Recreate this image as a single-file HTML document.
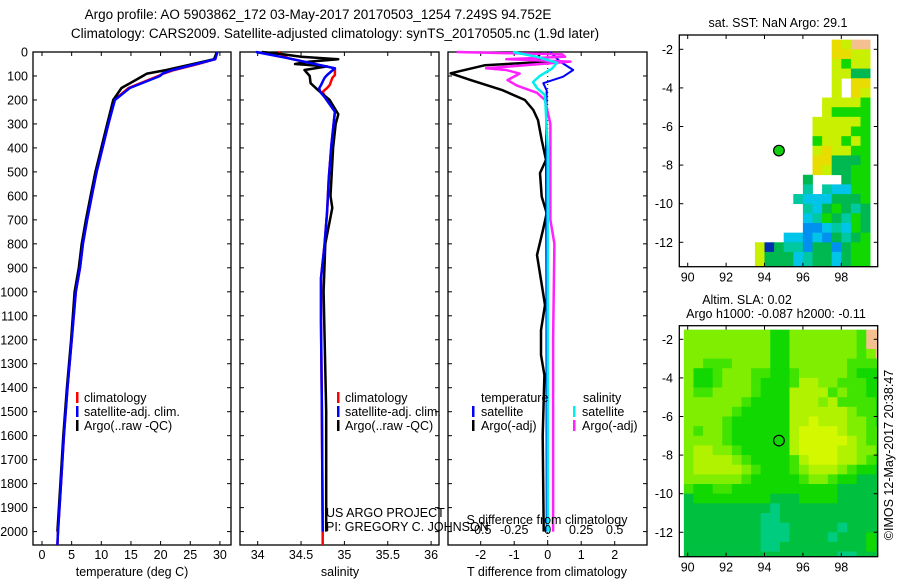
<!DOCTYPE html>
<html><head><meta charset="utf-8"><style>
html,body{margin:0;padding:0;background:#fff;}
svg{display:block;font-family:"Liberation Sans",sans-serif;}
text{font-size:12.5px;fill:#000;}
</style></head><body>
<svg id="fig" width="900" height="580" viewBox="0 0 900 580" xmlns="http://www.w3.org/2000/svg">
<text x="318" y="19" text-anchor="middle" style="font-size:13.5px">Argo profile: AO 5903862_172 03-May-2017 20170503_1254 7.249S 94.752E</text>
<text x="335" y="38" text-anchor="middle" style="font-size:13.5px">Climatology: CARS2009. Satellite-adjusted climatology: synTS_20170505.nc (1.9d later)</text>
<g id="g1"></g>
<g id="g2"></g>
<g id="g3"></g>
<g id="m1"></g>
<g id="m2"></g>
<text transform="translate(893,455) rotate(-90)" text-anchor="middle">©IMOS 12-May-2017 20:38:47</text>
</svg>
<script>
// ---- data ----
const depthTicks=[0,100,200,300,400,500,600,700,800,900,1000,1100,1200,1300,1400,1500,1600,1700,1800,1900,2000];
const tempTicks=[0,5,10,15,20,25,30];
const salTicks=[34,34.5,35,35.5,36];
const tdTicks=[-2,-1,0,1,2];
const sdTicks=[-0.5,-0.25,0,0.25,0.5];
const sdTickLabels=['-0.5','-0.25','0','0.25','0.5'];
const tempDepth=[0,30,50,75,90,100,150,200,300,400,500,600,700,800,900,1000,1200,1400,1600,1800,2000,2056];
const tempClim=[29.5,29.2,26.3,22.3,20.5,19.6,14.6,12.2,11.2,10.2,9.2,8.4,7.6,6.9,6.4,5.7,5.0,4.3,3.7,3.2,2.7,2.6];
const tempSat=[29.6,29.2,26.0,22.0,20.3,19.9,14.8,12.3,11.2,10.2,9.2,8.4,7.6,6.9,6.4,5.7,5.0,4.3,3.7,3.2,2.7,2.6];
const tempArgoDepth=[0,30,50,75,90,100,150,200,300,400,500,600,700,800,900,1000,1200,1400,1600,1800,2000];
const tempArgo=[29.5,29.0,25.5,21.0,17.7,17.0,13.4,12.0,11.0,10.0,9.0,8.2,7.4,6.7,6.2,5.5,4.9,4.2,3.6,3.1,2.6];
const salDepth=[0,26,68,96,108,138,150,166,192,249,388,526,666,805,943,1125,1500,2000,2056];
const salClim=[34.23,34.35,34.89,34.89,34.86,34.83,34.80,34.75,34.78,34.89,34.85,34.82,34.80,34.77,34.73,34.73,34.74,34.75,34.75];
const salSat=[33.98,34.35,34.89,34.80,34.77,34.73,34.71,34.72,34.78,34.89,34.85,34.82,34.80,34.77,34.73,34.73,34.74,34.75,34.75];
const salArgoDepth=[0,10,20,30,40,50,60,75,100,130,160,200,260,300,400,600,650,800,1000,1500,2000];
const salArgo=[34.05,34.3,34.5,34.93,34.6,34.43,34.8,34.54,34.6,34.61,34.7,34.83,34.93,34.9,34.87,34.84,34.86,34.78,34.76,34.79,34.79];
const tdDepth=[0,33,40,55,89,117,158,200,242,284,367,450,505,603,672,742,847,951,1055,1160,1263,1347,1600,2000];
const tdArgo=[-0.23,-0.3,0.07,-1.87,-2.9,-2.3,-1.37,-0.68,-0.43,-0.29,-0.18,-0.05,-0.23,-0.18,-0.03,-0.14,-0.32,-0.2,-0.08,-0.2,-0.2,-0.1,-0.15,-0.12];
const tdSatDepth=[0,40,75,103,130,160,400,1000,2000];
const tdSat=[0.07,0.37,0.76,0.46,-0.13,-0.03,-0.05,-0.04,-0.03];
const sdArgoDepth=[0,10,20,30,40,68,75,90,117,140,170,200,250,300,700,800,1200,2000];
const sdArgo=[-0.68,0.11,0.13,-0.31,0.17,-0.46,-0.31,-0.21,-0.3,-0.23,-0.08,-0.02,0,0.02,0.02,0.05,0.04,0.04];
const sdSatDepth=[0,20,45,70,100,125,150,180,400,2000];
const sdSat=[-0.26,-0.08,0.07,0.03,-0.06,-0.11,-0.08,-0.02,0,0];
const lonTicks=[90,92,94,96,98];
const latTicks=[-2,-4,-6,-8,-10,-12];
const argoLon=94.752, argoLat=-7.249;
const sstRows=[
".................YLOO",
".................YYLL",
".................LGLL",
".................LLDD",
".................L.YY",
".................L.YL",
"................LLLLG",
"................LGGGG",
"...............LLLLLG",
"...............LLLLGG",
"...............GLLGLG",
"...............LYLLGG",
"...............YYDDDG",
"...............YLDDGG",
"..............D...DGG",
"..............C.CSSGG",
".............CSSSDDDG",
"..............CSDGDCD",
"..............SCGDCGD",
"..............BBSCSGD",
"............SSBSBDCDG",
".........LNDCCBDDBDGG",
".........LDDDSCDDSDGG",
".........LDDDSCDDSDGG"];
const slaRows=[
"dddddddddbbdddddddcOO",
"dddddddddbbdddddddcOO",
"dddddddddbbdddddddcdO",
"ddcccddddbbddddddcccc",
"dbbcdddccbbcdddddcbbb",
"dbbcdddcbbbceeddcccbb",
"dccddddcbbbeeeecdccbb",
"ddddddcbbbbeeedeccccb",
"dddddcbbbbbeeeeeedccb",
"ddddcbbbbbbeefeeeddcb",
"dcddcbbbbbbeffffeddcc",
"ddddcbbbbbbefffffedcc",
"deeddcbbbbbeffffeeddc",
"deeeedcbbbbcefffeedcb",
"deeeeedcbbbcdeeedcbba",
"ddddddcbbbbbcddcbbaaa",
"cbbccbbbbbbbbbbbaaaaa",
"abbbbbbbbaaabbbbaaaaa",
"aaaaaaaaataaaaaaaaaaa",
"aaaaaaaattaaaaaaaaaaa",
"aaaaaaaatttaaaaataaaa",
"aaaaaaaatttaaaataaaba",
"aaaaaaaattaaaaaaaaaba",
"aaaaaaaaaaaaaaaattaaa"];
// ---- rendering ----
const NS='http://www.w3.org/2000/svg';
const pal={Y:'#e8dc00',L:'#c8f000',G:'#10d800',D:'#00b850',C:'#00c8a0',S:'#00c4e8',B:'#0090f0',N:'#0030b0',O:'#f5c090',
 a:'#00c040',b:'#10d800',c:'#40e400',d:'#80ee00',e:'#b0f200',f:'#d4f800',t:'#00cc80'};
function mk(tag,attrs,parent){const e=document.createElementNS(NS,tag);for(const k in attrs)e.setAttribute(k,attrs[k]);parent.appendChild(e);return e;}
const yD=d=>52+d*0.2398;
const xT=t=>42+t*5.93;
const xS=s=>257.7+(s-34)*86.7;
const xTD=v=>547.7+v*33.5;
const xSD=v=>547.7+v*134;
function panel(g,x0,x1){
  const r=mk('rect',{x:x0,y:52,width:x1-x0,height:493,fill:'none',stroke:'#000','stroke-width':1.3},g);
  
  
  depthTicks.forEach(d=>{const y=yD(d);
    mk('line',{x1:x0,x2:x0+4,y1:y,y2:y,stroke:'#000'},g);
    mk('line',{x1:x1-4,x2:x1,y1:y,y2:y,stroke:'#000'},g);});
}
function xticks(g,vals,fx,labels,ylab){
  vals.forEach((v,i)=>{const x=fx(v);
    mk('line',{x1:x,x2:x,y1:52,y2:56,stroke:'#000'},g);
    mk('line',{x1:x,x2:x,y1:541,y2:545,stroke:'#000'},g);
    if(labels){const t=mk('text',{x:x,y:ylab,'text-anchor':'middle'},g);t.textContent=labels[i];
      
      }});
}
function line(g,ys,xs,fx,color,w,name,dash){
  const pts=ys.map((d,i)=>fx(xs[i]).toFixed(1)+','+yD(d).toFixed(1)).join(' ');
  const p=mk('polyline',{points:pts,fill:'none',stroke:color,'stroke-width':w,'stroke-linejoin':'round'},g);
  if(dash)p.setAttribute('stroke-dasharray',dash);
  
  
}
function txt(g,x,y,s,name,anchor){const t=mk('text',{x:x,y:y,'text-anchor':anchor||'start'},g);t.textContent=s;
  
  return t;}
function legbar(g,x,y,c){mk('rect',{x:x,y:y-10,width:2.5,height:11,fill:c},g);}
// panel 1
const g1=document.getElementById('g1');
panel(g1,33,231);
depthTicks.forEach(d=>{txt(g1,28,yD(d)+4.5,String(d),'y-tick-label','end');});
xticks(g1,tempTicks,xT,tempTicks.map(String),559);
line(g1,tempDepth,tempClim,xT,'#ff0000',2.5,'climatology-temperature-line');
line(g1,tempArgoDepth,tempArgo,xT,'#000',2.5,'argo-temperature-line');
line(g1,tempDepth,tempSat,xT,'#0000ff',2.5,'satellite-temperature-line');
txt(g1,132,576,'temperature (deg C)','x-axis-title','middle');
legbar(g1,76,402,'#f00');txt(g1,84,402,'climatology','legend-entry');
legbar(g1,76,416,'#00f');txt(g1,84,416,'satellite-adj. clim.','legend-entry');
legbar(g1,76,430,'#000');txt(g1,84,430,'Argo(..raw -QC)','legend-entry');
// panel 2
const g2=document.getElementById('g2');
panel(g2,240,439);
xticks(g2,salTicks,xS,salTicks.map(String),559);
line(g2,salDepth,salClim,xS,'#ff0000',2.5,'climatology-salinity-line');
line(g2,salArgoDepth,salArgo,xS,'#000',2.5,'argo-salinity-line');
line(g2,salDepth.slice(0,-1),salSat.slice(0,-1),xS,'#0000ff',2.5,'satellite-salinity-line');
txt(g2,340,576,'salinity','x-axis-title','middle');
legbar(g2,337,402,'#f00');txt(g2,345,402,'climatology','legend-entry');
legbar(g2,337,416,'#00f');txt(g2,345,416,'satellite-adj. clim.','legend-entry');
legbar(g2,337,430,'#000');txt(g2,345,430,'Argo(..raw -QC)','legend-entry');
txt(g2,326,517,'US ARGO PROJECT','project-credit');
txt(g2,326,531,'PI: GREGORY C. JOHNSON','pi-credit');
// panel 3
const g3=document.getElementById('g3');
panel(g3,448,647);
xticks(g3,tdTicks,xTD,tdTicks.map(String),559);
for(let y=52;y<545;y+=4)mk('line',{x1:547.7,x2:547.7,y1:y,y2:y+1,stroke:'#000'},g3);
line(g3,tdDepth,tdArgo,xTD,'#000',2.5,'argo-t-difference-line');
line(g3,tdSatDepth,tdSat,xTD,'#0000ff',2,'satellite-t-difference-line');
line(g3,sdArgoDepth,sdArgo,xSD,'#ff22ff',2.5,'argo-s-difference-line');
line(g3,sdSatDepth,sdSat,xSD,'#00eeee',2.5,'satellite-s-difference-line');
sdTicks.forEach((v,i)=>txt(g3,xSD(v),534,sdTickLabels[i],'s-diff-tick-label','middle'));
txt(g3,547,524,'S difference from climatology','s-axis-title','middle');
txt(g3,547,576,'T difference from climatology','x-axis-title','middle');
txt(g3,481,402,'temperature','legend-title');txt(g3,583,402,'salinity','legend-title');
legbar(g3,472,416,'#00f');txt(g3,481,416,'satellite','legend-entry');
legbar(g3,472,430,'#000');txt(g3,481,430,'Argo(-adj)','legend-entry');
legbar(g3,573,416,'#0ee');txt(g3,582,416,'satellite','legend-entry');
legbar(g3,573,430,'#f2f');txt(g3,582,430,'Argo(-adj)','legend-entry');
// maps
function map(g,top,bot,rows,filled,lonOff,latStart){
  const L=679.3,R=877.7;
  const xL=lon=>687.7+(lon-90)*19.2;
  const ref=(top===35?49.3:339.3);
  const yL=lat=>ref+(-2-lat)*19.3;
  const cp=mk('clipPath',{id:'cp'+Math.round(top)},g);mk('rect',{x:L,y:top,width:R-L,height:bot-top},cp);
  const cg=mk('g',{'clip-path':'url(#cp'+Math.round(top)+')'},g);
  rows.forEach((row,ri)=>{const lat0=latStart-ri*0.5;
    for(let ci=0;ci<row.length;ci++){const ch=row[ci];if(ch==='.')continue;
      const lon0=89.5+lonOff+ci*0.5;
      const r=mk('rect',{x:xL(lon0),y:yL(lat0),width:10,height:10,fill:pal[ch]},cg);
      
      }});
  const c=mk('circle',{cx:xL(argoLon),cy:yL(argoLat),r:5.3,fill:filled?'#10d010':'none',stroke:'#000','stroke-width':1.2},g);
  
  
  const f=mk('rect',{x:L,y:top,width:R-L,height:bot-top,fill:'none',stroke:'#000','stroke-width':1.3},g);
  
  
  latTicks.forEach(v=>{const y=yL(v);mk('line',{x1:L,x2:L+4,y1:y,y2:y,stroke:'#000'},g);mk('line',{x1:R-4,x2:R,y1:y,y2:y,stroke:'#000'},g);
    txt(g,673,y+4.5,String(v),'lat-tick-label','end');});
  lonTicks.forEach(v=>{const x=xL(v);mk('line',{x1:x,x2:x,y1:top,y2:top+4,stroke:'#000'},g);mk('line',{x1:x,x2:x,y1:bot-4,y2:bot,stroke:'#000'},g);
    txt(g,x,bot+15,String(v),'lon-tick-label','middle');});
}
const m1=document.getElementById('m1');
map(m1,35,266.7,sstRows,true,-0.5,-1.5);
txt(m1,778,27,'sat. SST: NaN Argo: 29.1','map-title','middle');
const m2=document.getElementById('m2');
map(m2,325.7,556.7,slaRows,false,0.3,-1.5);
txt(m2,747,304,'Altim. SLA: 0.02','map-title','middle');
txt(m2,776,318,'Argo h1000: -0.087 h2000: -0.11','map-subtitle','middle');
</script>
</body></html>
